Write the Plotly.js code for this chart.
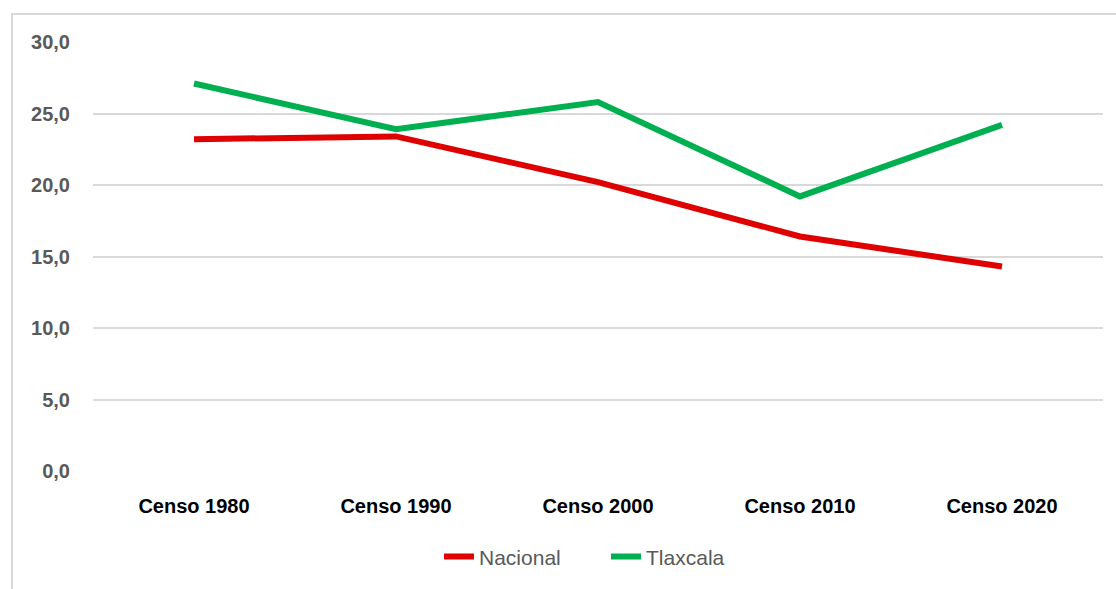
<!DOCTYPE html>
<html>
<head>
<meta charset="utf-8">
<script src="https://cdn.plot.ly/plotly-3.0.1.min.js"></script>
<style>
  html, body { margin: 0; padding: 0; background: #ffffff; overflow: hidden; }
  #frame { position: absolute; left: 11px; top: 13px; width: 1200px; height: 700px; border: 2px solid #d9d9d9; box-sizing: border-box; }
  #chart { position: absolute; left: 0; top: 0; width: 1116px; height: 589px; }
</style>
</head>
<body>
<div id="frame"></div>
<div id="chart"></div>
<script>
const categories = ["Censo 1980", "Censo 1990", "Censo 2000", "Censo 2010", "Censo 2020"];
const nacional = [23.2, 23.4, 20.2, 16.4, 14.3];
const tlaxcala = [27.1, 23.9, 25.8, 19.2, 24.2];
const seriesNames = ["Nacional", "Tlaxcala"];
const yTicks = [0, 5, 10, 15, 20, 25, 30];

const traces = [
  { x: categories, y: nacional, name: seriesNames[0], type: "scatter", mode: "lines",
    line: { color: "#df0000", width: 6 } },
  { x: categories, y: tlaxcala, name: seriesNames[1], type: "scatter", mode: "lines",
    line: { color: "#00b050", width: 6 } }
];

const layout = {
  width: 1116, height: 589,
  margin: { l: 93, r: 13, t: 42, b: 118 },
  paper_bgcolor: "rgba(0,0,0,0)",
  plot_bgcolor: "rgba(0,0,0,0)",
  separators: ",.",
  font: { family: "Liberation Sans, Arial, sans-serif" },
  showlegend: true,
  legend: {
    orientation: "h", x: 0.3426, xanchor: "left", y: -0.2, yanchor: "middle",
    font: { size: 21, color: "#595959" }, itemwidth: 30, entrywidth: 122
  },
  xaxis: {
    type: "category", range: [-0.5, 4.5], showgrid: false, zeroline: false,
    showline: false, ticks: "", ticklabelstandoff: 21,
    tickfont: { size: 20, color: "#000000", family: "Liberation Sans, Arial, sans-serif", weight: "bold" }
  },
  yaxis: {
    range: [0, 30], tickvals: yTicks, tickformat: ".1f", showgrid: true,
    gridcolor: "#d9d9d9", gridwidth: 2, zeroline: false, showline: false, ticks: "",
    ticklabelstandoff: 22,
    tickfont: { size: 20, color: "#595959", family: "Liberation Sans, Arial, sans-serif", weight: "bold" }
  }
};

Plotly.newPlot("chart", traces, layout, { displayModeBar: false, staticPlot: true });
</script>
</body>
</html>
